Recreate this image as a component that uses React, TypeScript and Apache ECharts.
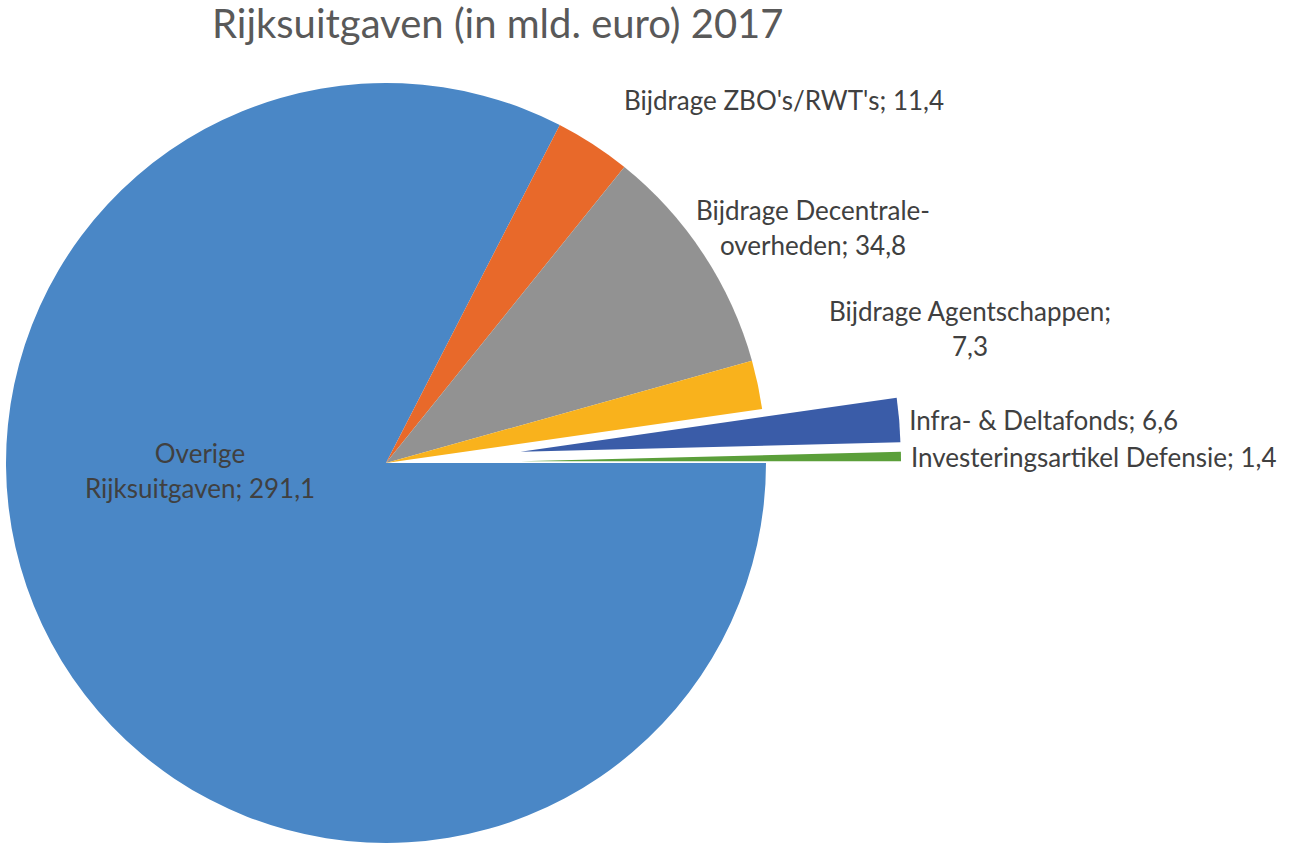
import React, { useEffect, useRef } from "react";
import * as echarts from "echarts";

const categories = [
  "Overige Rijksuitgaven",
  "Bijdrage ZBO's/RWT's",
  "Bijdrage Decentrale-overheden",
  "Bijdrage Agentschappen",
  "Infra- & Deltafonds",
  "Investeringsartikel Defensie",
];
const values = [291.1, 11.4, 34.8, 7.3, 6.6, 1.4];
const exploded = [false, false, false, false, true, true];
const colors = ["#4A87C6", "#E8692A", "#929292", "#F9B21C", "#3A5CA8", "#5B9F3A"];
// label text lines (how the label wraps)
const labelLines = [
  ["Overige", "Rijksuitgaven; {v}"],
  ["Bijdrage ZBO's/RWT's; {v}"],
  ["Bijdrage Decentrale-", "overheden; {v}"],
  ["Bijdrage Agentschappen;", "{v}"],
  ["Infra- & Deltafonds; {v}"],
  ["Investeringsartikel Defensie; {v}"],
];
const titleText = "Rijksuitgaven (in mld. euro) 2017";

// label anchor layout for the non-exploded slices (x, y, align)
const labelAnchors: ([number, number, string] | null)[] = [
  [200, 470, "center"],
  [784, 100, "center"],
  [813, 227, "center"],
  [970, 328, "center"],
  null,
  null,
];
// extra label styling for exploded slices (placed by the pie's own outside layout)
const explodedLabel: any[] = [
  null,
  null,
  null,
  null,
  { padding: [4, 0, 0, 0] },
  { padding: [12, 0, 0, 0] },
];

const fmt = (v: number) => v.toFixed(1).replace(".", ",");

export default function App() {
  const ref = useRef<HTMLDivElement>(null);
  useEffect(() => {
    if (!ref.current) return;
    const chart = echarts.init(ref.current, null, { renderer: "svg" });
    const data = categories.map((name, i) => {
      const item: any = {
        name,
        value: values[i],
        selected: exploded[i],
        itemStyle: { color: colors[i] },
        select: { itemStyle: { color: colors[i], borderWidth: 0 } },
      };
      if (explodedLabel[i]) {
        item.label = explodedLabel[i];
        item.labelLine = { show: false, length: 0, length2: 10 };
      }
      return item;
    });
    chart.setOption({
      animation: false,
      backgroundColor: "#ffffff",
      title: {
        text: titleText,
        left: 212,
        top: 3,
        padding: 0,
        textStyle: {
          fontFamily: "Lato",
          fontSize: 40,
          lineHeight: 40,
          fontWeight: "normal",
          color: "#595959",
        },
      },
      series: [
        {
          type: "pie",
          center: [386, 463],
          radius: [0, 380],
          startAngle: 0,
          clockwise: true,
          selectedMode: "multiple",
          selectedOffset: 135,
          avoidLabelOverlap: false,
          emphasis: { disabled: true },
          itemStyle: { borderWidth: 0 },
          labelLine: { show: false },
          label: {
            show: true,
            position: "outside",
            fontFamily: "Lato",
            fontSize: 26,
            color: "#404040",
            lineHeight: 35,
            overflow: "none",
            bleedMargin: 0,
            distanceToLabelLine: 0,
            formatter: (p: any) =>
              labelLines[p.dataIndex].map((l) => l.replace("{v}", fmt(p.value))).join("\n"),
          },
          labelLayout: (p: any) => {
            const a = labelAnchors[p.dataIndex];
            if (!a) return { hideOverlap: false };
            return { x: a[0], y: a[1], align: a[2], verticalAlign: "middle", hideOverlap: false };
          },
          data,
        },
      ],
    });
    return () => chart.dispose();
  }, []);
  return (
    <div
      ref={ref}
      style={{ position: "fixed", left: 0, top: 0, width: 1299, height: 848 }}
    />
  );
}
